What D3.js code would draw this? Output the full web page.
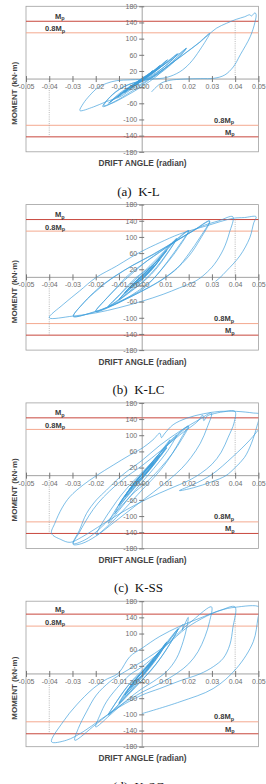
<!DOCTYPE html>
<html>
<head>
<meta charset="utf-8">
<script src="https://cdn.jsdelivr.net/npm/d3@7"></script>
<style>
body { margin: 0; background: #fff; }
svg { display: block; }
</style>
</head>
<body>
<div id="chart"></div>
<script>
var driftTicks = [-0.05, -0.04, -0.03, -0.02, -0.01, 0, 0.01, 0.02, 0.03, 0.04, 0.05]
var driftLabels = ["-0.05", "-0.04", "-0.03", "-0.02", "-0.01", "0.00", "0.01", "0.02", "0.03", "0.04", "0.05"]
var momentTicks = [180, 140, 100, 60, 20, -20, -60, -100, -140, -180]
var captions = ["(a)  K-L", "(b)  K-LC", "(c)  K-SS", "(d)  K-SC"]
var mpValues = [143, 143, 143, 148]

// [drift angle, moment]
var loopKL = [
  [0,0],[0.002,9],[0.0045,20],[0.003,11],[0.001,1],[-0.002,-10],[-0.0045,-21],[-0.003,-12],[-0.001,-2],
  [0.002,8],[0.0045,21],[0.0025,8],[0,-4],[-0.0045,-21],[-0.0025,-9],[0,2],
  [0.004,17],[0.0075,33],[0.005,20],[0.001,2],[-0.004,-17],[-0.0075,-33],[-0.005,-20],[-0.001,-3],
  [0.004,15],[0.0078,34],[0.005,18],[0,-3],[-0.0078,-34],[-0.0045,-16],[0,2],
  [0.006,25],[0.0105,46],[0.008,30],[0.003,8],[-0.002,-8],[-0.0105,-44],[-0.007,-28],[-0.002,-8],
  [0.004,14],[0.011,48],[0.007,26],[0.001,0],[-0.011,-46],[-0.006,-22],[0,0],
  [0.008,30],[0.015,62],[0.012,42],[0.006,16],[0,-4],[-0.007,-26],[-0.014,-58],[-0.01,-40],[-0.004,-16],
  [0.003,8],[0.009,34],[0.0155,63],[0.011,38],[0.004,6],[-0.005,-20],[-0.0145,-60],[-0.009,-32],[0,0],
  [0.008,30],[0.014,54],[0.019,76],[0.016,56],[0.011,32],[0.005,8],[-0.002,-6],[-0.009,-22],[-0.014,-45],[-0.017,-68],
  [-0.013,-60],[-0.007,-42],[0,-18],[0.006,6],[0.012,38],[0.019,76],[0.015,50],[0.009,20],[0.003,0],
  [-0.006,-14],[-0.013,-40],[-0.0165,-66],[-0.012,-56],[-0.005,-32],[0.002,-6],
  [0.01,28],[0.018,62],[0.024,88],[0.029,113],[0.0248,72],[0.0205,39],[0.0162,18],[0.0105,4],[0.004,0],
  [-0.005,-2],[-0.011,-4],[-0.0155,-11],[-0.019,-21],[-0.0225,-40],[-0.0254,-61],[-0.0268,-78],
  [-0.021,-69],[-0.0155,-56],[-0.0096,-44],[-0.004,-23],[0,-11],[0.005,8],[0.012,36],[0.02,70],[0.025,92],
  [0.029,112],[0.032,126],[0.0363,138],[0.0406,148],[0.044,154],[0.0463,159],[0.047,156],[0.0485,164],
  [0.049,160],[0.0485,140],[0.0465,105],[0.0422,60],[0.0392,30],[0.0355,10],[0.031,2],[0.025,1],[0.018,0],
  [0.012,-3],[0.0085,-9],[0.006,-20],[0.004,-32]
]
var loopKLC = [
  [0,0],[0.003,16],[0.005,28],[0.003,14],[0,-3],[-0.003,-15],[-0.005,-26],[-0.003,-12],[0,3],
  [0.005,29],[0.002,10],[-0.001,-4],[-0.005,-27],[-0.002,-8],[0,2],
  [0.004,22],[0.0075,44],[0.005,26],[0.001,2],[-0.004,-20],[-0.0075,-38],[-0.005,-22],[-0.001,-2],
  [0.0075,45],[0.004,18],[-0.0075,-39],[-0.004,-16],[0,4],
  [0.006,38],[0.0105,66],[0.007,40],[0.002,8],[-0.004,-22],[-0.01,-54],[-0.007,-36],[-0.002,-6],[0.004,26],
  [0.0105,68],[0.006,32],[0,-6],[-0.01,-56],[-0.005,-22],[0,6],
  [0.008,50],[0.0148,95],[0.011,62],[0.006,24],[0,-12],[-0.007,-42],[-0.0145,-72],[-0.011,-52],[-0.006,-22],[0,10],
  [0.007,50],[0.0148,96],[0.01,52],[0.004,8],[-0.006,-40],[-0.0148,-73],[-0.009,-38],[-0.003,-2],
  [0.004,28],[0.012,78],[0.02,115],[0.016,80],[0.011,40],[0.006,4],[0,-30],[-0.01,-60],[-0.02,-84],
  [-0.016,-56],[-0.011,-26],[-0.007,0],[0,32],[0.01,72],[0.02,116],[0.015,68],[0.009,24],[0.004,-8],
  [-0.004,-42],[-0.012,-68],[-0.02,-85],[-0.015,-50],[-0.01,-20],[-0.005,6],
  [0.003,45],[0.012,80],[0.021,112],[0.029,140],[0.025,100],[0.02,58],[0.015,22],[0.01,0],[0.003,-24],
  [-0.005,-48],[-0.015,-75],[-0.023,-90],[-0.0297,-97],
  [-0.026,-68],[-0.021,-38],[-0.016,-14],[-0.011,5],[-0.004,30],[0.004,55],[0.013,85],[0.022,115],[0.029,139],
  [0.025,95],[0.02,52],[0.014,18],[0.008,-8],[0,-34],[-0.01,-62],[-0.02,-84],[-0.0295,-96],
  [-0.025,-62],[-0.019,-30],[-0.012,2],[-0.004,30],[0.005,57],[0.015,92],[0.025,125],[0.033,140],[0.039,150],
  [0.0375,110],[0.035,70],[0.031,32],[0.027,8],[0.023,-9],[0.016,-26],[0.009,-42],[0,-59],[-0.01,-75],
  [-0.02,-88],[-0.03,-96],[-0.04,-100],
  [-0.034,-67],[-0.027,-34],[-0.02,-1],[-0.011,28],[-0.005,49],[0,65],[0.0076,86],[0.016,107],[0.028,128],
  [0.039,146],[0.044,148],[0.049,150],[0.048,135],[0.0463,98],[0.042,53],[0.0363,16],[0.0334,-1],[0.0315,-10]
]
var loopKSS = [
  [0,0],[0.003,18],[0.005,32],[0.003,16],[0,-4],[-0.003,-18],[-0.005,-33],[-0.003,-16],[0,4],
  [0.005,33],[0.002,12],[-0.005,-34],[-0.002,-10],[0,3],
  [0.004,26],[0.0075,50],[0.005,30],[0.001,2],[-0.004,-26],[-0.0075,-52],[-0.005,-30],[-0.001,-2],
  [0.0075,51],[0.004,22],[-0.0075,-53],[-0.004,-22],[0,4],
  [0.006,40],[0.0105,68],[0.007,42],[0.002,8],[-0.004,-30],[-0.01,-72],[-0.007,-46],[-0.002,-8],[0.004,28],
  [0.0105,70],[0.006,34],[0,-8],[-0.01,-74],[-0.005,-30],[0,6],
  [0.006,45],[0.012,89],[0.009,60],[0.004,20],[-0.002,-20],[-0.008,-62],[-0.0118,-94],[-0.009,-62],[-0.004,-24],[0.002,16],
  [0.008,58],[0.0148,100],[0.011,62],[0.005,18],[-0.003,-36],[-0.01,-86],[-0.0146,-118],[-0.011,-80],[-0.006,-40],[0,2],
  [0.006,45],[0.012,85],[0.0198,123],[0.017,95],[0.013,55],[0.009,22],[0.005,-5],[0,-35],[-0.008,-85],[-0.014,-120],[-0.0197,-147],
  [-0.017,-115],[-0.013,-80],[-0.009,-48],[-0.004,-15],[0.002,20],[0.01,70],[0.02,122],
  [0.017,90],[0.013,55],[0.008,20],[0.003,-10],[-0.005,-50],[-0.012,-95],[-0.02,-140],[-0.025,-160],[-0.0297,-168],
  [-0.027,-135],[-0.024,-94],[-0.0197,-60],[-0.0154,-36],[-0.011,-11],[-0.0067,10],[0,38],[0.0076,75],
  [0.0162,110],[0.0249,140],[0.0298,155],
  [0.028,120],[0.025,80],[0.021,45],[0.017,18],[0.012,-8],[0.005,-40],[-0.003,-75],[-0.012,-115],[-0.02,-150],
  [-0.026,-168],[-0.0297,-170],
  [-0.027,-140],[-0.023,-100],[-0.019,-68],[-0.014,-38],[-0.008,-8],[0,25],[0.008,62],[0.016,100],[0.024,135],
  [0.026,150],[0.0265,136],[0.028,148],[0.03,152],[0.035,158],[0.0399,159],
  [0.0395,130],[0.037,95],[0.034,58],[0.03,28],[0.025,5],[0.02,-12],[0.012,-32],[0.003,-55],[-0.007,-85],
  [-0.017,-120],[-0.026,-152],[-0.031,-165],[-0.035,-158],[-0.039,-143],
  [-0.0376,-118],[-0.0345,-80],[-0.0311,-52],[-0.0254,-23],[-0.0197,0],[-0.0125,26],[-0.0053,51],[0,68],
  [0.0047,89],[0.0076,105],[0.0083,94],[0.0095,103],[0.0133,126],[0.0191,142],[0.0263,153],[0.0334,159],
  [0.0406,159],[0.0478,155],[0.0505,152],
  [0.0495,125],[0.047,80],[0.044,45],[0.04,20],[0.036,0],[0.03,-15],[0.022,-30],[0.016,-37],
  [0.022,-22],[0.03,3],[0.039,47],[0.0463,88],[0.0505,117]
]
var loopKSC = [
  [0,0],[0.003,20],[0.005,35],[0.003,18],[0,-4],[-0.003,-18],[-0.005,-33],[-0.003,-15],[0,4],
  [0.005,36],[0.002,12],[-0.005,-34],[-0.002,-10],[0,3],
  [0.004,28],[0.0075,55],[0.005,32],[0.001,2],[-0.004,-26],[-0.0075,-52],[-0.005,-30],[-0.001,-2],
  [0.0075,56],[0.004,24],[-0.0075,-53],[-0.004,-22],[0,4],
  [0.006,44],[0.0105,78],[0.007,46],[0.002,8],[-0.004,-30],[-0.01,-72],[-0.007,-44],[-0.002,-8],[0.004,30],
  [0.0105,79],[0.006,36],[0,-8],[-0.01,-74],[-0.005,-30],[0,6],
  [0.005,30],[0.01,70],[0.0155,112],[0.012,75],[0.008,40],[0.004,10],[0,-15],[-0.007,-55],[-0.0145,-102],
  [-0.011,-68],[-0.007,-35],[-0.003,-8],[0.002,20],[0.008,60],[0.0155,112],[0.011,66],[0.006,25],[0.001,-8],
  [-0.007,-58],[-0.0145,-100],[-0.01,-60],[-0.005,-22],[0,5],
  [0.006,42],[0.012,85],[0.0176,122],[0.0172,108],[0.0178,116],[0.0198,140],[0.0191,113],[0.0176,80],
  [0.0148,39],[0.0105,6],[0.0047,-19],[0,-36],[-0.0067,-65],[-0.0139,-102],[-0.02,-131],
  [-0.0182,-102],[-0.0154,-69],[-0.011,-36],[-0.0053,-2],[0,18],[0.0076,55],[0.0148,97],[0.022,134],[0.0298,166],
  [0.029,130],[0.027,92],[0.024,55],[0.02,25],[0.015,2],[0.008,-22],[0,-45],[-0.01,-80],[-0.02,-125],[-0.029,-164],
  [-0.0275,-135],[-0.024,-94],[-0.0197,-52],[-0.0139,-19],[-0.0096,-2],[0,31],[0.0105,72],[0.0191,114],
  [0.0277,143],[0.034,158],[0.0399,166],
  [0.039,114],[0.0377,72],[0.0349,39],[0.0306,18],[0.0248,0],[0.0162,-17],[0.0076,-36],[0,-52],[-0.0096,-81],
  [-0.0182,-114],[-0.0254,-143],[-0.0326,-164],[-0.039,-168],
  [-0.034,-118],[-0.0283,-77],[-0.0211,-36],[-0.015,-12],[-0.0118,-4],[-0.0096,6],[-0.0053,43],[0,64],
  [0.0076,93],[0.0162,118],[0.0248,138],[0.0334,157],[0.04,165],[0.0505,165],
  [0.0498,138],[0.0478,80],[0.0406,14],[0.0306,-36],[0.0162,-69],[0,-98]
]
var loops = [loopKL, loopKLC, loopKSS, loopKSC]

var width = 266
var height = 784
var svg = d3.select("#chart")
            .append("svg")
            .attr("width", width)
            .attr("height", height)

var x = d3.scaleLinear().domain([-0.05, 0.05]).range([26, 258.4])

for (var i = 0; i < 4; i++) {
    draw_panel(i, 6.3 + 198.3 * i)
}

function mpLabel(g, px, py, text) {
    var t = g.append("text")
             .attr("x", px)
             .attr("y", py)
             .attr("font-family", "Liberation Sans, Arial, sans-serif")
             .attr("font-size", 7.5)
             .attr("font-weight", "bold")
             .attr("fill", "#3a3a3a")
    t.append("tspan").text(text + "M")
    t.append("tspan").attr("font-size", 5.5).attr("dy", 1.5).text("p")
}

function draw_panel(i, top) {
    var y = d3.scaleLinear().domain([-180, 180]).range([top + 145.5, top])
    var mp = mpValues[i]
    var g = svg.append("g")
    var clipId = "clip" + i

    g.append("clipPath").attr("id", clipId)
        .append("rect")
        .attr("x", x(-0.05)).attr("y", top)
        .attr("width", x(0.05) - x(-0.05)).attr("height", 145.5)

    // plot frame
    g.append("rect")
        .attr("x", x(-0.05)).attr("y", top)
        .attr("width", x(0.05) - x(-0.05)).attr("height", 145.5)
        .attr("fill", "none")
        .attr("stroke", "#a0a0a0")
        .attr("stroke-width", 0.8)

    // Mp and 0.8Mp lines
    var levels = [[mp, "#c8473d"], [-mp, "#c8473d"], [0.8 * mp, "#f4a98f"], [-0.8 * mp, "#f4a98f"]]
    g.selectAll(".lvl")
        .data(levels)
        .enter()
        .append("line")
        .attr("x1", x(-0.05)).attr("x2", x(0.05))
        .attr("y1", function(d){ return y(d[0]) })
        .attr("y2", function(d){ return y(d[0]) })
        .attr("stroke", function(d){ return d[1] })
        .attr("stroke-width", 1)

    // dotted drops at +-0.04
    g.append("line")
        .attr("x1", x(-0.04)).attr("x2", x(-0.04))
        .attr("y1", y(0)).attr("y2", y(-mp))
        .attr("stroke", "#999").attr("stroke-width", 0.7).attr("stroke-dasharray", "1,1.2")
    g.append("line")
        .attr("x1", x(0.04)).attr("x2", x(0.04))
        .attr("y1", y(mp)).attr("y2", y(0))
        .attr("stroke", "#999").attr("stroke-width", 0.7).attr("stroke-dasharray", "1,1.2")

    // cross axes
    g.append("line")
        .attr("x1", x(-0.05)).attr("x2", x(0.05))
        .attr("y1", y(0)).attr("y2", y(0))
        .attr("stroke", "#8a8a8a").attr("stroke-width", 0.8)
    g.append("line")
        .attr("x1", x(0)).attr("x2", x(0))
        .attr("y1", y(180)).attr("y2", y(-180))
        .attr("stroke", "#8a8a8a").attr("stroke-width", 0.8)

    // hysteresis curve
    var line = d3.line()
                 .x(function(d){ return x(d[0]) })
                 .y(function(d){ return y(d[1]) })
                 .curve(d3.curveCatmullRom.alpha(0.5))
    g.append("path")
        .attr("d", line(loops[i]))
        .attr("clip-path", "url(#" + clipId + ")")
        .attr("fill", "none")
        .attr("stroke", "#3e9fdc")
        .attr("stroke-width", 0.8)
        .attr("stroke-opacity", 0.85)

    var xAxis = d3.axisBottom(x)
                  .tickValues(driftTicks)
                  .tickSize(3)
                  .tickPadding(2)
                  .tickFormat(function(d, k){ return driftLabels[k] })
    var yAxis = d3.axisLeft(y)
                  .tickValues(momentTicks)
                  .tickSize(3)
                  .tickPadding(2)
                  .tickFormat(function(d){ return String(d) })

    var gx = g.append("g").attr("transform", "translate(0," + y(0) + ")").call(xAxis)
    var gy = g.append("g").attr("transform", "translate(" + x(0) + ",0)").call(yAxis)
    gx.select(".domain").remove()
    gy.select(".domain").remove()
    gx.selectAll(".tick line").attr("y1", -3).attr("y2", 3).attr("stroke", "#777")
    gy.selectAll(".tick line").attr("x1", -3).attr("x2", 2).attr("stroke", "#777")
    g.selectAll(".tick text")
        .attr("font-family", "Liberation Sans, Arial, sans-serif")
        .attr("font-size", 7)
        .attr("fill", "#6e6e6e")

    mpLabel(g, 55, y(mp) - 2.5, "")
    mpLabel(g, 45, y(0.8 * mp) - 1.5, "0.8")
    mpLabel(g, 214, y(-0.8 * mp) - 2.5, "0.8")
    mpLabel(g, 225, y(-mp) - 2, "")

    g.append("text")
        .attr("transform", "translate(17," + (top + 87) + ") rotate(-90)")
        .attr("text-anchor", "middle")
        .attr("font-family", "Liberation Sans, Arial, sans-serif")
        .attr("font-size", 8)
        .attr("font-weight", "bold")
        .attr("fill", "#444")
        .text("MOMENT (kN\u00b7m)")

    g.append("text")
        .attr("x", 142.5)
        .attr("y", top + 160)
        .attr("text-anchor", "middle")
        .attr("font-family", "Liberation Sans, Arial, sans-serif")
        .attr("font-size", 8.3)
        .attr("font-weight", "bold")
        .attr("fill", "#444")
        .text("DRIFT ANGLE (radian)")

    g.append("text")
        .attr("x", 138.5)
        .attr("y", top + 189.5)
        .attr("text-anchor", "middle")
        .attr("font-family", "Liberation Serif, Times New Roman, serif")
        .attr("font-size", 13)
        .attr("fill", "#111")
        .attr("xml:space", "preserve")
        .style("white-space", "pre")
        .text(captions[i])
}
</script>
</body>
</html>
